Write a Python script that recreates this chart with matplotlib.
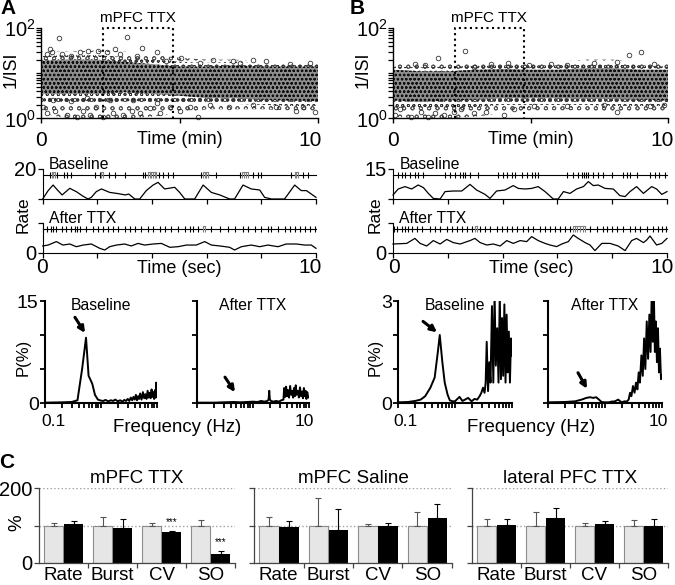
import matplotlib
matplotlib.use("Agg")
import matplotlib.pyplot as plt
from matplotlib.ticker import LogLocator, NullFormatter, FixedLocator

plt.rcParams['font.family'] = ['Liberation Sans', 'DejaVu Sans']
plt.rcParams['mathtext.fontset'] = 'custom'
plt.rcParams['mathtext.rm'] = 'Liberation Sans'
plt.rcParams['hatch.linewidth'] = 0.6

W, H = 675, 585

# ---------------- A/B top: 1/ISI cloud, edges read per minute ----------------
band_min = [0, 1, 2, 3, 4, 5, 6, 7, 8, 9, 10]
a_core_lo = [3.5, 3.5, 3.5, 3.8, 3.5, 3.2, 2.8, 2.8, 2.6, 2.5, 2.4]
a_core_hi = [19, 20, 20, 18, 16, 14, 14, 15, 14, 14, 14]
a_mid_lo = [2.4, 2.2, 2.2, 2.4, 2.4, 2.3, 2.1, 2.1, 2.0, 1.9, 1.9]
a_mid_hi = [24, 25, 25, 23, 20, 18, 17, 18, 16, 16, 16]
a_halo_lo = [1.3, 1.0, 1.0, 1.0, 1.1, 1.3, 1.6, 1.6, 1.6, 1.5, 1.5]
a_halo_hi = [30, 30, 32, 30, 26, 22, 20, 20, 18, 18, 18]
a_out_t = [0.66, 0.32, 0.38, 0.75, 1.1, 1.7, 2.07, 2.67, 3.09, 2.85, 3.63, 4.17, 4.53,
           5.07, 5.73, 6.21, 7.66, 8.14, 8.98, 9.7, 0.2, 1.4, 2.37, 3.45, 6.94, 7.18,
           0.08, 0.2, 0.5, 0.93, 1.29, 1.53, 1.77, 2.0, 2.25, 2.6, 2.97, 3.27, 3.57,
           3.93, 4.29, 4.65, 5.01, 5.37, 5.67, 0.44, 1.1, 1.65, 2.49, 3.33, 4.17, 6.1,
           6.8, 7.66, 8.5, 9.22, 9.88, 9.46]
a_out_v = [60, 34, 29, 26, 24, 31, 31, 34, 63, 26, 37, 29, 19,
           22, 17, 20, 20, 19, 16, 17, 26, 29, 29, 24, 19, 17,
           1.8, 1.3, 1.5, 1.2, 1.1, 1.5, 1.2, 1.8, 1.1, 1.3, 1.2, 1.5, 1.3,
           1.7, 1.3, 1.8, 1.5, 1.8, 1.1, 2.6, 2.4, 2.8, 2.6, 2.6, 2.2, 2.0,
           1.8, 2.0, 1.8, 1.5, 1.4, 1.8]

b_core_lo = [2.5, 2.3, 2.5, 2.6, 2.8, 2.8, 2.8, 2.7, 2.7, 2.6, 2.5]
b_core_hi = [12, 11, 11, 12, 12.5, 12, 12, 13, 13, 12, 12]
b_mid_lo = [1.7, 1.6, 1.7, 1.8, 2.0, 2.0, 2.0, 2.0, 1.9, 1.9, 1.9]
b_mid_hi = [14, 13.5, 14, 14.5, 15, 15, 15, 16, 16, 15, 14]
b_halo_lo = [1.1, 1.0, 1.0, 1.1, 1.3, 1.5, 1.5, 1.5, 1.4, 1.4, 1.5]
b_halo_hi = [18, 17, 18, 18, 18, 18, 18, 20, 20, 18, 17]
b_out_t = [1.63, 2.6, 8.57, 9.0, 0.79, 1.15, 2.96, 3.56, 4.17, 4.95, 5.74, 6.34, 7.3,
           8.15, 9.48, 0.06, 0.24, 0.66, 1.03, 1.27, 1.51, 1.87, 2.23, 2.48, 2.96,
           3.38, 4.05, 4.41, 5.13, 6.34, 7.67, 8.15, 9.36, 9.84]
b_out_v = [22, 31, 25, 29, 16, 15, 13.6, 16, 17, 15, 16, 15, 17,
           18, 16, 1.2, 1.6, 1.1, 1.4, 1.1, 1.3, 1.2, 1.4, 1.6, 1.3,
           1.4, 1.2, 1.6, 1.85, 1.85, 2.0, 1.4, 1.85, 2.0]
ttx_on, ttx_off = 2.25, 4.75  # min

# ---------------- A/B middle: spike rasters and rate (sec) ----------------
a_base_spikes = [0.26, 0.34, 0.39, 0.46, 0.51, 0.78, 0.90, 1.05, 1.90, 2.09, 2.15, 2.21,
                 2.41, 2.66, 3.02, 3.67, 3.76, 3.85, 3.91, 3.98, 4.04, 4.10, 4.16, 4.24,
                 4.40, 4.59, 4.77, 5.78, 5.87, 5.93, 5.99, 6.05, 6.35, 7.21, 7.29, 7.37,
                 7.44, 7.51, 7.70, 7.88, 8.00, 9.10, 9.22, 9.28, 9.34, 9.52, 9.71]
a_base_bursts = [(0.34, 0.46), (2.15, 2.21), (3.85, 4.16), (5.87, 6.05), (7.29, 7.51),
                 (9.22, 9.34)]
a_base_rate_t = [0, 0.2, 0.38, 0.56, 0.71, 0.99, 1.23, 1.48, 1.66, 1.78, 1.96, 2.15, 2.45,
                 2.76, 3.02, 3.15, 3.37, 3.55, 3.79, 4.04, 4.22, 4.46, 4.83, 5.01, 5.2,
                 5.56, 5.87, 6.17, 6.48, 6.84, 7.02, 7.33, 7.63, 7.94, 8.12, 8.37, 8.85,
                 9.22, 9.46, 9.65, 10]
a_base_rate = [0, 5.6, 9.3, 5.6, 2.7, 7.1, 4.9, 1.8, 0, 1.1, 4.9, 6.7, 4.4,
               3.6, 2.7, 3.3, 0, 0, 5.6, 9.3, 11.1, 6.7, 7.8, 4.4, 0,
               0, 9.3, 4.4, 2.7, 0, 0, 9.3, 6.7, 6.0, 1.1, 0, 0,
               9.3, 5.6, 5.6, 1.1]

a_after_spikes = [0.01, 0.17, 0.29, 0.38, 0.50, 0.71, 0.87, 1.05, 1.17, 1.27, 1.35, 1.60,
                  1.84, 2.02, 2.21, 2.39, 2.57, 2.76, 3.00, 3.18, 3.37, 3.61, 3.85, 4.04,
                  4.28, 4.46, 4.71, 4.95, 5.20, 5.38, 5.50, 5.68, 5.87, 5.93, 6.17, 6.48,
                  6.78, 7.02, 7.33, 7.51, 7.76, 8.00, 8.24, 8.37, 8.61, 8.85, 9.04, 9.22,
                  9.40, 9.59, 9.77, 9.95]
a_after_bursts = [(5.87, 5.93)]
a_after_rate_t = [0, 0.2, 0.5, 0.74, 0.99, 1.23, 1.48, 1.78, 2.09, 2.27, 2.45, 2.7, 3.0,
                  3.24, 3.49, 3.73, 4.04, 4.34, 4.65, 4.95, 5.26, 5.62, 5.93, 6.17, 6.48,
                  6.84, 7.02, 7.27, 7.63, 7.94, 8.24, 8.61, 8.91, 9.28, 9.59, 9.83, 10]
a_after_rate = [4.7, 5.3, 7.6, 5.3, 6.0, 4.2, 5.3, 6.0, 3.1, 2.0, 4.2, 5.3, 6.0,
                4.7, 6.4, 5.3, 6.0, 6.4, 3.8, 4.2, 5.3, 5.3, 7.6, 5.3, 4.7,
                3.8, 2.0, 4.2, 5.3, 4.2, 5.3, 4.2, 6.0, 6.0, 5.3, 5.3, 3.1]

b_base_spikes = [0.19, 0.32, 0.44, 0.62, 0.80, 0.92, 1.08, 1.90, 2.08, 2.26, 2.45, 2.54,
                 2.63, 2.81, 3.11, 3.84, 4.03, 4.15, 4.33, 4.45, 4.70, 4.88, 5.06, 5.18,
                 5.30, 6.34, 6.58, 6.76, 6.89, 6.97, 7.04, 7.13, 7.31, 7.49, 7.68, 7.98,
                 8.41, 8.55, 8.65, 8.89, 9.38, 9.56, 9.72, 9.93]
b_base_bursts = []
b_base_rate_t = [0, 0.19, 0.44, 0.68, 0.92, 1.11, 1.29, 1.47, 1.72, 1.9, 2.2, 2.51, 2.81,
                 3.05, 3.36, 3.54, 3.78, 4.09, 4.39, 4.57, 4.82, 5.06, 5.3, 5.55, 5.85,
                 6.03, 6.22, 6.46, 6.7, 6.95, 7.13, 7.31, 7.49, 7.74, 8.04, 8.28, 8.47,
                 8.65, 8.89, 9.14, 9.44, 9.62, 9.81, 10]
b_base_rate = [2.0, 5.0, 6.2, 5.0, 7.0, 5.7, 2.8, 0.3, 0, 3.7, 4.0, 4.0, 7.3,
               4.5, 2.3, 0.3, 4.0, 4.5, 6.7, 5.3, 5.0, 5.3, 6.2, 3.7, 0,
               0, 3.7, 2.8, 5.0, 6.2, 8.7, 6.7, 7.0, 5.3, 5.0, 1.7, 1.2,
               3.7, 6.2, 2.8, 6.2, 5.0, 2.3, 3.7]

b_after_spikes = [0.04, 0.16, 0.32, 0.44, 0.56, 0.68, 0.86, 1.05, 1.35, 1.53, 1.72, 1.96,
                  2.14, 2.34, 2.51, 2.69, 2.87, 2.99, 3.08, 3.18, 3.36, 3.54, 3.78, 3.97,
                  4.15, 4.33, 4.51, 4.76, 4.94, 5.12, 5.36, 5.55, 5.73, 5.91, 6.09, 6.28,
                  6.46, 6.56, 6.64, 6.73, 6.82, 6.92, 7.01, 7.19, 7.44, 7.68, 7.80, 7.98,
                  8.16, 8.41, 8.65, 8.83, 9.01, 9.26, 9.50, 9.68, 9.81, 9.96]
b_after_bursts = [(2.99, 3.08), (6.56, 7.01)]
b_after_rate_t = [0, 0.5, 0.8, 0.99, 1.23, 1.47, 1.72, 1.96, 2.2, 2.45, 2.81, 2.99, 3.18,
                  3.42, 3.66, 3.91, 4.15, 4.39, 4.64, 4.88, 5.06, 5.3, 5.55, 5.73, 5.97,
                  6.16, 6.4, 6.58, 6.76, 7.01, 7.19, 7.37, 7.62, 7.92, 8.22, 8.47, 8.71,
                  8.89, 9.14, 9.26, 9.38, 9.62, 9.81, 10]
b_after_rate = [4.5, 4.8, 7.3, 4.8, 3.5, 6.2, 4.5, 6.8, 5.2, 4.5, 6.2, 7.3, 5.2,
                4.0, 4.5, 3.5, 6.2, 4.8, 6.2, 5.7, 8.2, 6.2, 4.8, 4.0, 3.2,
                4.5, 5.7, 9.0, 7.3, 5.2, 4.0, 1.2, 4.8, 4.8, 3.5, 1.2, 6.2,
                7.3, 5.2, 6.5, 8.5, 4.0, 4.8, 7.3]

# ---------------- A/B bottom: power spectra ----------------
a_base_f = [0.1, 0.2, 0.3, 0.38, 0.46, 0.54, 0.6, 0.65, 0.7, 0.78, 0.88, 1.0, 1.1, 1.2,
            1.35, 1.5, 1.65, 1.8, 2.0, 2.2, 2.4, 2.6, 2.8, 3.0, 3.2, 3.4, 3.6, 3.8, 4.0,
            4.2, 4.4, 4.6, 4.8, 5.0, 5.3, 5.6, 5.9, 6.2, 6.5, 6.8, 7.1, 7.4, 7.7, 8.0,
            8.3, 8.6, 8.9, 9.2, 9.5, 9.7, 9.85, 10]
a_base_p = [0.05, 0.1, 0.15, 0.4, 5.0, 9.6, 4.0, 3.4, 2.8, 1.2, 0.5, 0.35, 0.3, 0.45,
            0.25, 0.4, 0.3, 0.5, 0.25, 0.4, 0.2, 0.45, 0.3, 0.6, 0.3, 0.8, 0.4, 0.9, 0.5,
            1.2, 0.4, 1.0, 0.6, 1.4, 0.5, 1.6, 0.7, 1.3, 0.6, 1.8, 0.8, 1.5, 0.7, 2.0,
            0.9, 1.6, 0.6, 1.9, 0.8, 3.0, 0.9, 2.2]
a_after_f = [0.1, 0.2, 0.3, 0.45, 0.6, 0.8, 1.0, 1.2, 1.4, 1.6, 1.8, 1.9, 1.95, 2.0, 2.1,
             2.3, 2.6, 2.9, 3.2, 3.5, 3.6, 3.75, 3.9, 4.05, 4.2, 4.4, 4.6, 4.8, 5.0, 5.2,
             5.4, 5.6, 5.8, 6.0, 6.3, 6.6, 6.9, 7.2, 7.5, 7.8, 8.1, 8.4, 8.7, 9.0, 9.3,
             9.6, 10]
a_after_p = [0.05, 0.05, 0.1, 0.15, 0.1, 0.15, 0.2, 0.15, 0.3, 0.2, 0.3, 0.5, 1.8, 0.5,
             0.3, 0.2, 0.3, 0.2, 0.4, 0.5, 2.2, 0.9, 2.4, 1.0, 1.9, 0.8, 2.5, 1.2, 1.8,
             0.8, 2.2, 1.0, 2.6, 1.2, 1.8, 0.8, 2.3, 1.0, 1.7, 0.7, 2.2, 1.0, 1.8, 0.6,
             1.6, 1.0, 0.8]
b_base_f = [0.1, 0.15, 0.2, 0.25, 0.3, 0.37, 0.44, 0.5, 0.54, 0.6, 0.66, 0.74, 0.81, 0.9,
            1.0, 1.1, 1.2, 1.35, 1.5, 1.7, 1.95, 2.2, 2.45, 2.7, 2.9, 3.1, 3.3, 3.45, 3.6,
            3.8, 4.0, 4.2, 4.45, 4.7, 4.95, 5.2, 5.5, 5.8, 6.1, 6.4, 6.7, 7.0, 7.35, 7.7,
            8.05, 8.4, 8.8, 9.2, 9.6, 10]
b_base_p = [0.02, 0.03, 0.06, 0.1, 0.2, 0.45, 0.75, 1.5, 2.0, 1.2, 0.6, 0.25, 0.08, 0.05,
            0.05, 0.12, 0.18, 0.06, 0.1, 0.15, 0.05, 0.12, 0.1, 0.2, 0.3, 0.45, 0.3, 0.6,
            1.8, 0.35, 1.2, 0.6, 2.85, 0.6, 3.2, 1.1, 2.2, 0.6, 3.2, 0.7, 2.5, 0.8, 2.9,
            0.6, 2.6, 0.9, 2.1, 0.6, 1.9, 1.4]
b_after_f = [0.1, 0.2, 0.3, 0.39, 0.47, 0.55, 0.62, 0.7, 0.76, 0.87, 1.0, 1.15, 1.3, 1.5,
             1.7, 1.95, 2.2, 2.4, 2.6, 2.75, 2.9, 3.1, 3.3, 3.5, 3.7, 3.9, 4.1, 4.35,
             4.6, 4.85, 5.1, 5.4, 5.7, 6.0, 6.3, 6.6, 6.9, 7.2, 7.5, 7.8, 8.15, 8.5,
             8.85, 9.2, 9.6, 10]
b_after_p = [0.02, 0.03, 0.05, 0.1, 0.15, 0.17, 0.15, 0.17, 0.12, 0.03, 0.02, 0.02, 0.04,
             0.05, 0.1, 0.02, 0.05, 0.04, 0.1, 0.3, 0.2, 0.5, 0.3, 0.6, 0.4, 0.9, 0.6,
             1.4, 0.8, 1.9, 1.0, 2.4, 1.3, 2.6, 1.5, 3.2, 1.8, 3.2, 1.5, 2.4, 1.2, 2.2,
             0.9, 1.6, 0.7, 0.8]
# arrows: (tail, head) in (Hz, %)
a_base_arrow = [(0.343, 12.6), (0.518, 10.3)]
a_after_arrow = [(0.316, 3.8), (0.476, 1.6)]
b_base_arrow = [(0.275, 2.4), (0.483, 2.08)]
b_after_arrow = [(0.336, 0.89), (0.483, 0.42)]

# ---------------- C: normalised measures (%) ----------------
groups = ['Rate', 'Burst', 'CV', 'SO']
ttx_ctrl, ttx_ctrl_err = [100, 100, 100, 100], [7, 24, 6, 14]
ttx_drug, ttx_drug_err = [105, 94, 82, 24], [7, 24, 3, 7]
ttx_stars = ['', '', '***', '***']
sal_ctrl, sal_ctrl_err = [100, 100, 100, 100], [23, 73, 4, 36]
sal_drug, sal_drug_err = [97, 88, 98, 119], [16, 56, 8, 39]
lat_ctrl, lat_ctrl_err = [100, 100, 100, 100], [17, 35, 8, 15]
lat_drug, lat_drug_err = [102, 120, 103, 98], [15, 26, 9, 19]


def px_axes(fig, l, t, r, b):
    return fig.add_axes([l / W, 1 - b / H, (r - l) / W, (b - t) / H])


def ftext(fig, x, y, s, **kw):
    kw.setdefault('ha', 'center')
    kw.setdefault('va', 'center')
    fig.text(x / W, 1 - y / H, s, **kw)


def isi_panel(ax, bands, out_t, out_v):
    ax.set_yscale('log')
    ax.set_xlim(0, 10)
    ax.set_ylim(1, 100)
    # outer -> inner: sparser circles outside, dense dark core
    styles = [('none', '#555555', 'oo'), ('none', '#333333', 'ooo'),
              ('#8e8e8e', '#111111', 'oooo')]
    for (lo, hi), (fc, ec, hatch) in zip(bands, styles):
        ax.fill_between(band_min, lo, hi, facecolor=fc, edgecolor=ec, hatch=hatch,
                        linewidth=0)
    ax.plot(out_t, out_v, 'o', ms=3.3, mfc='none', mec='#333333', mew=0.6, clip_on=False)
    ax.plot([ttx_on, ttx_on, ttx_off, ttx_off], [1, 100, 100, 1], ':', color='k',
            lw=1.5, clip_on=False)
    ax.text((ttx_on + ttx_off) / 2, 170, 'mPFC TTX', ha='center', va='center',
            fontsize=11)
    for s in ('top', 'right'):
        ax.spines[s].set_visible(False)
    for s in ('left', 'bottom'):
        ax.spines[s].set_linewidth(1.0)
    ax.set_yticks([1, 10, 100])
    ax.set_yticklabels([r'$\mathregular{10^0}$', '', r'$\mathregular{10^2}$'])
    ax.yaxis.set_minor_locator(LogLocator(base=10, subs=range(2, 10)))
    ax.yaxis.set_minor_formatter(NullFormatter())
    ax.set_xticks([0, 5, 10])
    ax.set_xticklabels([])
    ax.tick_params(axis='y', which='both', direction='out', length=3.5, width=0.9,
                   pad=0.5, labelsize=14.5)
    ax.tick_params(axis='x', direction='out', length=3.5, width=1)


def rate_panel(ax, ymax, spikes, bursts, rate_t, rate_v, label, bottom):
    row, half = 0.8 * ymax, 0.1 * ymax
    ax.set_xlim(0, 10)
    ax.set_ylim(0, ymax)
    ax.plot([0, 10], [row, row], color='k', lw=0.8, clip_on=False)
    in_burst = [any(a <= s <= b for a, b in bursts) for s in spikes]
    ax.vlines(spikes, row - half, row + half,
              colors=['#808080' if b else 'k' for b in in_burst], lw=0.8, clip_on=False)
    for a, b in bursts:
        ax.plot([a, b], [row + 1.15 * half] * 2, color='#808080', lw=0.8, clip_on=False)
    ax.plot(rate_t, rate_v, color='k', lw=0.9, clip_on=False)
    ax.text(0.23, ymax, label, ha='left', va='baseline', fontsize=11.3)
    for s in ('top', 'right'):
        ax.spines[s].set_visible(False)
    ax.set_xticks([0, 2, 4, 6, 8, 10])
    ax.set_xticklabels([])
    ax.set_yticks([0, ymax])
    if bottom:
        ax.set_yticklabels(['0', ''])
    else:
        ax.set_yticklabels(['', str(ymax)])
    ax.tick_params(direction='out', length=3.5, width=0.9, pad=1, labelsize=14.5)


def spectrum_panel(ax, f, p, ymax, yticks, title, arrow, show_y):
    ax.set_xscale('log')
    ax.set_xlim(0.1, 10)
    ax.set_ylim(0, ymax)
    ax.plot(f, p, color='k', lw=1.4)
    ax.annotate('', xy=arrow[1], xytext=arrow[0],
                arrowprops=dict(arrowstyle='-|>', lw=2.2, color='k', mutation_scale=9,
                                shrinkA=0, shrinkB=0))
    ax.text(0.5, 0.912, title, transform=ax.transAxes, ha='center', va='baseline',
            fontsize=11.3)
    for s in ('top', 'right'):
        ax.spines[s].set_visible(False)
    for s in ('left', 'bottom'):
        ax.spines[s].set_linewidth(1.5)
    ax.set_yticks(yticks)
    if show_y:
        ax.set_yticklabels(['0'] + [''] * (len(yticks) - 2) + [str(yticks[-1])])
    else:
        ax.set_yticklabels([])
    ax.xaxis.set_major_locator(FixedLocator([0.1, 1, 10]))
    ax.xaxis.set_minor_locator(LogLocator(base=10, subs=range(2, 10)))
    ax.xaxis.set_major_formatter(NullFormatter())
    ax.xaxis.set_minor_formatter(NullFormatter())
    ax.tick_params(which='both', direction='out', length=3.5, width=1.3, pad=1,
                   labelsize=14)


def bar_panel(ax, title, ctrl, ctrl_err, drug, drug_err, stars, show_y):
    n = len(groups)
    xs_c = [i + 0.3 for i in range(n)]
    xs_d = [i + 0.705 for i in range(n)]
    for lvl in (100, 200):
        ax.axhline(lvl, color='#a0a0a0', ls=':', lw=1, zorder=0)
    ax.bar(xs_c, ctrl, 0.39, color='#e6e6e6', edgecolor='#8c8c8c', lw=0.8, zorder=2)
    ax.bar(xs_d, drug, 0.39, color='k', zorder=2)
    ax.errorbar(xs_c, ctrl, yerr=[[0] * n, ctrl_err], fmt='none', ecolor='#555555',
                elinewidth=0.8, capsize=2, capthick=0.8, zorder=3)
    ax.errorbar(xs_d, drug, yerr=[[0] * n, drug_err], fmt='none', ecolor='k',
                elinewidth=0.8, capsize=2, capthick=0.8, zorder=3)
    for i, s in enumerate(stars):
        if s:
            ax.text(xs_d[i], drug[i] + drug_err[i] + 24, s, ha='center', va='center',
                    fontsize=7)
    ax.set_xlim(0, n)
    ax.set_ylim(0, 200)
    ax.set_title(title, fontsize=13.6, pad=3.6)
    for s in ('top', 'right'):
        ax.spines[s].set_visible(False)
    for s in ('left', 'bottom'):
        ax.spines[s].set_color('#444444')
        ax.spines[s].set_linewidth(0.9)
    ax.set_xticks([i + 0.5 for i in range(n)])
    ax.set_xticklabels(groups)
    ax.set_xticks(list(range(1, n + 1)), minor=True)
    ax.tick_params(axis='x', which='major', length=0, pad=3, labelsize=13.5)
    ax.tick_params(axis='x', which='minor', direction='out', length=3.5, width=0.9,
                   color='#444444')
    ax.set_yticks([0, 100, 200])
    ax.set_yticklabels(['0', '', '200'] if show_y else [])
    ax.tick_params(axis='y', direction='out', length=3.5, width=0.9, pad=1,
                   labelsize=14.5, color='#444444')


fig = plt.figure(figsize=(W / 100, H / 100), dpi=100)

# --- top scatter ---
ax = px_axes(fig, 41, 28, 318, 118.5)
isi_panel(ax, [(a_halo_lo, a_halo_hi), (a_mid_lo, a_mid_hi), (a_core_lo, a_core_hi)],
          a_out_t, a_out_v)
ax = px_axes(fig, 393, 28, 668, 118.5)
isi_panel(ax, [(b_halo_lo, b_halo_hi), (b_mid_lo, b_mid_hi), (b_core_lo, b_core_hi)],
          b_out_t, b_out_v)

# --- rasters ---
ax = px_axes(fig, 42.7, 169, 316, 199)
rate_panel(ax, 20, a_base_spikes, a_base_bursts, a_base_rate_t, a_base_rate, 'Baseline', False)
ax = px_axes(fig, 42.7, 223, 316, 253)
rate_panel(ax, 20, a_after_spikes, a_after_bursts, a_after_rate_t, a_after_rate, 'After TTX', True)
ax = px_axes(fig, 393, 169, 667, 199)
rate_panel(ax, 15, b_base_spikes, b_base_bursts, b_base_rate_t, b_base_rate, 'Baseline', False)
ax = px_axes(fig, 393, 223, 667, 253)
rate_panel(ax, 15, b_after_spikes, b_after_bursts, b_after_rate_t, b_after_rate, 'After TTX', True)

# --- spectra ---
ax = px_axes(fig, 45, 301, 157, 403)
spectrum_panel(ax, a_base_f, a_base_p, 15, [0, 5, 10, 15], 'Baseline', a_base_arrow, True)
ax = px_axes(fig, 197, 301, 309, 403)
spectrum_panel(ax, a_after_f, a_after_p, 15, [0, 5, 10, 15], 'After TTX', a_after_arrow, False)
ax = px_axes(fig, 398, 301, 512, 403)
spectrum_panel(ax, b_base_f, b_base_p, 3, [0, 1, 2, 3], 'Baseline', b_base_arrow, True)
ax = px_axes(fig, 548, 301, 662, 403)
spectrum_panel(ax, b_after_f, b_after_p, 3, [0, 1, 2, 3], 'After TTX', b_after_arrow, False)

# --- bars ---
ax = px_axes(fig, 39, 488, 235, 563)
bar_panel(ax, 'mPFC TTX', ttx_ctrl, ttx_ctrl_err, ttx_drug, ttx_drug_err, ttx_stars, True)
ax = px_axes(fig, 254, 488, 452, 563)
bar_panel(ax, 'mPFC Saline', sal_ctrl, sal_ctrl_err, sal_drug, sal_drug_err, [''] * 4, False)
ax = px_axes(fig, 472, 488, 668, 563)
bar_panel(ax, 'lateral PFC TTX', lat_ctrl, lat_ctrl_err, lat_drug, lat_drug_err, [''] * 4, False)

# --- labels ---
for x0, xc, x10 in ((0, 179.5, 310), (352, 531, 662)):
    ftext(fig, 11 + x0, 70, '1/ISI', rotation=90, fontsize=12.8)
    ftext(fig, xc, 140, 'Time (min)', fontsize=13)
    ftext(fig, 41 + x0, 140, '0', fontsize=15)
    ftext(fig, x10, 140, '10', fontsize=15)
    ftext(fig, 23 + x0, 215, 'Rate', rotation=90, fontsize=12.5)
    ftext(fig, xc, 269, 'Time (sec)', fontsize=13)
    ftext(fig, 42 + x0, 268, '0', fontsize=15)
    ftext(fig, x10, 268, '10', fontsize=15)
    ftext(fig, 23 + x0, 357, 'P(%)', rotation=90, fontsize=12)
ftext(fig, 177, 427, 'Frequency (Hz)', fontsize=13.4)
ftext(fig, 531, 427, 'Frequency (Hz)', fontsize=13.4)
ftext(fig, 53, 421, '0.1', fontsize=12.5)
ftext(fig, 304, 421, '10', fontsize=12.5)
ftext(fig, 405, 421, '0.1', fontsize=12.5)
ftext(fig, 658, 421, '10', fontsize=12.5)
ftext(fig, 17, 523, '%', rotation=90, fontsize=13.5)

ftext(fig, 8, 8, 'A', fontsize=15, fontweight='bold')
ftext(fig, 357, 8, 'B', fontsize=15, fontweight='bold')
ftext(fig, 7, 463, 'C', fontsize=15, fontweight='bold')

fig.savefig('out.png', dpi=100)
